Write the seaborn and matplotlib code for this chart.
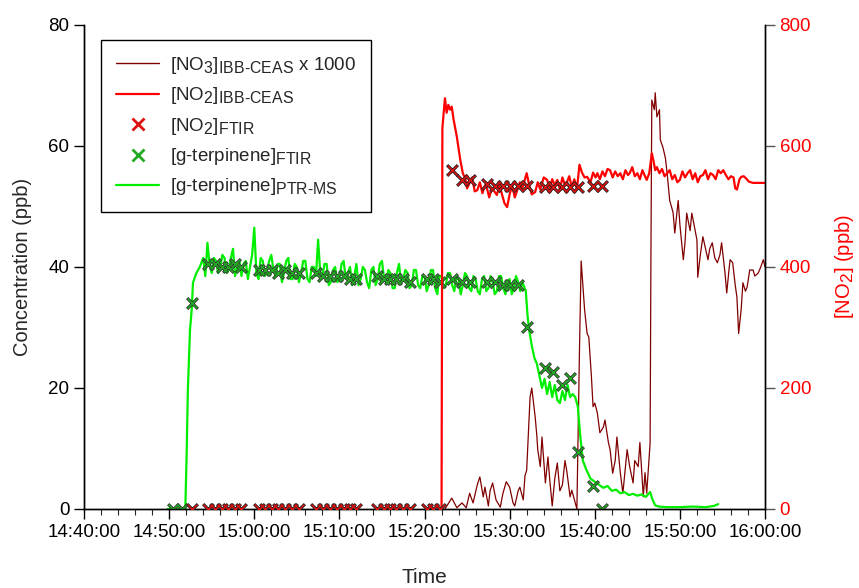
import numpy as np
import pandas as pd
import matplotlib
matplotlib.use('Agg')
import matplotlib.pyplot as plt
import matplotlib._mathtext as mathtext_internal
import seaborn as sns
from matplotlib.lines import Line2D
from matplotlib.ticker import MultipleLocator

# subscripts in the original are nearly full size
mathtext_internal.SHRINK_FACTOR = 0.85

# time axis is minutes after 14:40:00
xtick_pos = [0, 10, 20, 30, 40, 50, 60, 70, 80]
xtick_labels = ['14:40:00', '14:50:00', '15:00:00', '15:10:00', '15:20:00',
                '15:30:00', '15:40:00', '15:50:00', '16:00:00']

# [g-terpinene] PTR-MS (ppb, left axis)
ptr_t = [9.8, 11.9, 12.05, 12.2, 12.45, 12.65, 12.8, 13.2, 13.6,
         14.0, 14.25, 14.5, 14.75, 15.0, 15.25, 15.5, 15.75, 16.0, 16.25, 16.5, 16.75,
         17.0, 17.25, 17.5, 17.75, 18.0, 18.25, 18.5, 18.75, 19.0, 19.25, 19.5, 19.75,
         20.0, 20.25, 20.5, 20.75, 21.0, 21.25, 21.5, 21.75, 22.0, 22.25, 22.5, 22.75,
         23.0, 23.25, 23.5, 23.75, 24.0, 24.25, 24.5, 24.75, 25.0, 25.25, 25.5, 25.75,
         26.0, 26.25, 26.5, 26.75, 27.0, 27.25, 27.5, 27.75, 28.0, 28.25, 28.5, 28.75,
         29.0, 29.25, 29.5, 29.75, 30.0, 30.25, 30.5, 30.75, 31.0, 31.25, 31.5, 31.75,
         32.0, 32.25, 32.5, 32.75, 33.0, 33.25, 33.5, 33.75, 34.0, 34.25, 34.5, 34.75,
         35.0, 35.25, 35.5, 35.75, 36.0, 36.25, 36.5, 36.75, 37.0, 37.25, 37.5, 37.75,
         38.0, 38.25, 38.5, 38.75, 39.0, 39.25, 39.5, 39.75, 40.0, 40.25, 40.5, 40.75,
         41.0, 41.25, 41.5, 41.75, 42.0, 42.25, 42.5, 42.75, 43.0, 43.25, 43.5, 43.75,
         44.0, 44.25, 44.5, 44.75, 45.0, 45.25, 45.5, 45.75, 46.0, 46.25, 46.5, 46.75,
         47.0, 47.25, 47.5, 47.75, 48.0, 48.25, 48.5, 48.75, 49.0, 49.25, 49.5, 49.75,
         50.0, 50.25, 50.5, 50.75, 51.0, 51.25, 51.5,
         51.9, 52.1, 52.3, 52.6, 52.9, 53.2, 53.5, 53.8, 54.1, 54.4, 54.7, 55.0,
         55.3, 55.6, 55.9, 56.2, 56.5, 56.8, 57.1, 57.4, 57.7, 58.0, 58.3, 58.6,
         59.0, 59.5, 60.0, 60.5, 61.0, 61.5, 62.0, 62.5, 63.0, 63.5, 64.0, 64.5,
         65.0, 65.5, 66.0, 66.5, 66.8, 67.1, 67.5, 68.5, 70.0, 71.5, 73.0, 74.0, 74.5]
ptr_v = [0.0, 0.0, 8.6, 19.7, 29.6, 32.9, 37.4, 39.0, 40.0,
         41.5, 38.5, 44.0, 40.5, 39.0, 41.5, 41.0, 39.0, 40.0, 42.0, 41.5, 39.0,
         39.5, 41.5, 43.0, 38.5, 40.0, 41.0, 38.5, 40.5, 41.0, 38.0, 40.0, 42.0,
         46.5, 39.0, 38.0, 41.5, 41.0, 38.5, 39.5, 41.0, 42.0, 39.5, 38.5, 40.5,
         40.5, 37.5, 39.0, 41.0, 41.5, 38.0, 38.0, 40.5, 40.0, 37.5, 39.0, 41.0,
         41.0, 38.0, 37.5, 40.0, 40.0, 38.5, 44.5, 39.0, 38.5, 40.5, 40.5, 37.0,
         37.5, 39.5, 40.0, 37.5, 38.0, 40.5, 41.0, 38.0, 39.0, 40.0, 37.0, 38.5,
         40.5, 37.0, 38.0, 40.0, 39.5, 37.5, 36.5, 39.5, 40.0, 37.0, 38.0, 40.5,
         41.0, 38.0, 37.5, 39.5, 39.0, 36.5, 36.5, 39.0, 40.5, 37.5, 38.0, 39.5,
         39.0, 36.5, 37.0, 39.5, 39.5, 37.0, 36.5, 38.5, 38.5, 36.0, 37.0, 39.5,
         39.5, 36.5, 35.5, 38.5, 38.5, 36.5, 37.0, 39.0, 39.0, 37.0, 36.0, 38.5,
         38.0, 35.5, 37.0, 39.0, 38.5, 36.5, 36.0, 38.5, 38.0, 36.0, 35.5, 38.0,
         38.5, 36.0, 36.5, 38.5, 37.5, 35.5, 36.0, 38.5, 38.5, 36.5, 35.5, 37.5,
         38.0, 35.5, 36.5, 38.5, 37.5, 36.0, 37.5,
         36.0, 32.0, 29.5, 27.0, 25.0, 24.0, 22.0, 20.0, 21.5, 19.0, 21.0, 18.5,
         20.5, 18.0, 17.5, 19.5, 18.0, 20.5, 18.5, 19.0, 18.5, 17.0, 12.0, 8.0,
         6.5, 5.0, 4.5, 4.0, 3.5, 3.8, 3.0, 3.2, 2.6, 2.8, 2.3, 2.5,
         2.2, 2.4, 2.0, 2.8, 1.5, 0.6, 0.4, 0.3, 0.3, 0.4, 0.3, 0.5, 0.8]

# FTIR sample times, [g-terpinene] (ppb) and [NO2] (ppb)
ftir_t = [10.45, 11.5, 12.65, 14.6, 15.4, 16.2, 16.95, 17.7, 18.5, 20.5, 21.3, 22.05,
          22.8, 23.6, 24.4, 25.2, 27.3, 28.1, 28.9, 29.7, 30.5, 31.2, 32.0, 34.4,
          35.2, 35.9, 36.7, 37.5, 38.3, 40.3, 41.0, 41.8, 43.2, 44.4, 45.3, 47.3,
          48.3, 49.2, 50.0, 51.0, 52.0, 54.2, 55.1, 56.2, 57.1, 58.0, 59.8, 60.9]
ftir_terp = [0.0, 0.0, 34.0, 40.5, 40.5, 40.0, 40.0, 40.5, 40.0, 39.5, 39.5, 39.5,
             39.0, 39.5, 39.0, 39.0, 39.0, 38.5, 38.5, 38.5, 38.5, 38.0, 38.0, 38.5,
             38.0, 38.0, 38.0, 38.0, 37.5, 38.0, 38.0, 37.5, 38.0, 37.5, 37.5, 37.5,
             37.5, 37.0, 37.0, 37.0, 30.0, 23.3, 22.6, 20.5, 21.6, 9.4, 3.8, 0.0]
ftir_no2 = [np.nan, np.nan, 0, 0, 0, 0, 0, 0, 0, 0, 0, 0,
            0, 0, 0, 0, 0, 0, 0, 0, 0, 0, 0, 0,
            0, 0, 0, 0, 0, 0, 0, 0, 560, 544, 544, 537,
            534, 534, 534, 534, 534, 532, 532, 532, 532, 532, 534, 534]

# [NO3] IBB-CEAS x 1000 (left axis)
no3_t = [42.4, 43.2, 43.8, 44.4, 44.9, 45.3, 45.7, 46.2, 46.5, 46.9, 47.1, 47.5,
         47.7, 48.0, 48.4, 48.9, 49.2, 49.6, 50.0, 50.4, 50.6, 51.0, 51.2, 51.6,
         51.8, 52.0, 52.4, 52.6, 53.0, 53.2, 53.3, 53.6, 53.8, 54.0, 54.2, 54.5,
         54.7, 55.0, 55.3, 55.6, 55.9, 56.2, 56.5, 56.7, 57.1, 57.3, 57.7, 57.9,
         58.2, 58.4, 58.6, 58.8, 59.1, 59.3, 59.6, 59.8, 60.0, 60.3, 60.6, 61.0,
         61.2, 61.6, 61.8, 62.1, 62.4, 62.6, 63.0, 63.3, 63.6, 63.8, 64.1, 64.5,
         64.7, 65.1, 65.3, 65.7, 65.9, 66.1, 66.5, 66.6, 66.7, 67.0, 67.1, 67.3,
         67.6, 67.7, 68.0, 68.3, 68.5, 68.8, 69.2, 69.4, 69.8, 70.0, 70.4, 70.6,
         70.8, 71.2, 71.4, 71.8, 72.0, 72.1, 72.4, 72.7, 73.1, 73.3, 73.5, 73.8,
         74.1, 74.4, 74.7, 74.9, 75.3, 75.5, 75.8, 75.9, 76.2, 76.5, 76.7, 76.9,
         77.2, 77.4, 77.7, 77.9, 78.2, 78.6, 78.8, 79.2, 79.5, 79.8, 80.0]
no3_v = [0.0, 1.8, 0.2, 1.0, 0.2, 2.6, 1.0, 4.0, 5.3, 2.0, 3.6, 0.5,
         3.0, 4.3, 1.5, 0.3, 2.5, 4.5, 3.6, 1.0, 0.5, 3.0, 3.6, 1.5,
         5.5, 6.4, 18.5, 20.0, 15.2, 12.0, 9.8, 7.0, 11.9, 8.0, 4.3, 8.6,
         5.0, 0.5, 5.0, 7.6, 3.0, 4.0, 8.0, 6.4, 2.0, 3.1, 1.0, 0.0,
         26.0, 41.0, 37.0, 33.0, 29.0, 28.4, 22.0, 16.9, 17.5, 15.9, 12.6, 13.5,
         14.7, 11.0, 9.8, 5.9, 8.0, 11.9, 6.0, 2.6, 7.0, 9.8, 7.0, 4.3,
         8.0, 7.0, 11.0, 2.0, 6.0, 2.6, 10.9, 42.8, 67.6, 66.0, 68.8, 64.8,
         66.0, 61.0, 59.8, 58.0, 55.5, 51.0, 49.0, 45.6, 51.0, 47.0, 41.2, 44.0,
         48.9, 46.0, 48.9, 46.0, 44.5, 38.3, 42.0, 45.0, 42.5, 41.2, 43.0, 44.0,
         41.5, 40.7, 42.0, 44.0, 39.0, 35.7, 40.0, 41.2, 40.7, 37.0, 35.0, 29.0,
         33.0, 37.4, 36.0, 36.7, 39.5, 39.5, 38.5, 39.0, 40.0, 41.2, 40.0]

# [NO2] IBB-CEAS (ppb, right axis)
no2_t = [41.8, 42.0, 42.1, 42.4, 42.6, 42.8, 43.0, 43.2, 43.4, 43.8, 44.2, 44.5,
         44.8, 45.0, 45.3, 45.6, 45.9, 46.2, 46.5, 46.8, 47.1, 47.3, 47.6, 47.9,
         48.2, 48.5, 48.8, 49.1, 49.4, 49.7, 50.0, 50.3, 50.6, 50.9, 51.2, 51.5,
         51.8, 52.0, 52.3, 52.6, 53.0, 53.3, 53.6, 54.0, 54.4, 54.7, 55.0, 55.3,
         55.6, 55.9, 56.2, 56.5, 56.7, 57.0, 57.3, 57.6, 57.9, 58.2, 58.5, 58.8,
         59.1, 59.5, 59.8, 60.1, 60.3, 60.6, 60.9, 61.2, 61.5, 61.8, 62.1, 62.4,
         62.7, 63.0, 63.3, 63.6, 63.9, 64.1, 64.4, 64.7, 65.0, 65.3, 65.6, 65.9,
         66.1, 66.4, 66.7, 66.9, 67.1, 67.3, 67.6, 67.9, 68.2, 68.5, 68.8, 69.1,
         69.4, 69.7, 70.0, 70.3, 70.6, 70.9, 71.2, 71.5, 71.8, 72.1, 72.4, 72.7,
         73.0, 73.3, 73.6, 73.9, 74.2, 74.5, 74.8, 75.1, 75.4, 75.7, 76.0, 76.3,
         76.5, 76.7, 77.0, 77.2, 77.5, 77.8, 78.1, 78.6, 79.2, 80.0]
no2_v = [0, 0, 630, 679, 655, 668, 660, 665, 645, 615, 577, 555,
         545, 530, 539, 548, 525, 527, 540, 522, 535, 532, 515, 530,
         525, 519, 535, 520, 505, 499, 520, 535, 515, 527, 540, 530,
         545, 555, 535, 520, 524, 540, 528, 548, 544, 530, 545, 535,
         544, 528, 548, 535, 539, 550, 532, 545, 528, 569, 556, 548,
         549, 540, 556, 548, 555, 545, 558, 550, 562, 560, 548, 558,
         550, 555, 545, 560, 552, 555, 565, 550, 555, 545, 560, 550,
         544, 555, 588, 575, 560, 565, 555, 562, 550, 555, 560, 545,
         552, 540, 544, 558, 548, 555, 560, 545, 555, 540, 550, 552,
         560, 545, 555, 552, 545, 560, 555, 560, 552, 545, 550, 548,
         530, 528, 545, 549, 550, 546, 541, 539, 539, 539]

ptr = pd.DataFrame({'t': ptr_t, 'v': ptr_v})
ftir = pd.DataFrame({'t': ftir_t, 'terp': ftir_terp, 'no2': ftir_no2})
no3 = pd.DataFrame({'t': no3_t, 'v': no3_v})
no2 = pd.DataFrame({'t': no2_t, 'v': no2_v})

sns.set_style('ticks')
plt.rcParams['font.family'] = ['Liberation Sans', 'DejaVu Sans']
plt.rcParams['mathtext.fontset'] = 'custom'
plt.rcParams['mathtext.rm'] = 'Liberation Sans'
plt.rcParams['mathtext.it'] = 'Liberation Sans'

RED = '#ff0000'
DARK = '#800000'
GREEN = '#00ee00'
MGREEN = '#22aa22'
XRED = '#dd1111'

fig = plt.figure(figsize=(8.59, 5.88), dpi=100)
ax = fig.add_axes([0.0978, 0.1344, 0.7928, 0.8231])

sns.lineplot(data=no3, x='t', y='v', ax=ax, color=DARK, lw=0.9, estimator=None, sort=False)
sns.lineplot(data=ptr, x='t', y='v', ax=ax, color=GREEN, lw=1.6, estimator=None, sort=False)
# crosses with a dark outline: dark wide x first, coloured thin x on top
sns.scatterplot(data=ftir, x='t', y='terp', ax=ax, marker='x', s=60, color='#333333',
                linewidth=2.3, zorder=5)
sns.scatterplot(data=ftir, x='t', y='terp', ax=ax, marker='x', s=50, color=MGREEN,
                linewidth=1.1, zorder=6)

ax2 = ax.twinx()
sns.lineplot(data=no2, x='t', y='v', ax=ax2, color=RED, lw=1.6, estimator=None, sort=False)
sns.scatterplot(data=ftir, x='t', y='no2', ax=ax2, marker='x', s=60, color='#222222',
                linewidth=2.3, zorder=5)
sns.scatterplot(data=ftir, x='t', y='no2', ax=ax2, marker='x', s=50, color=XRED,
                linewidth=1.1, zorder=6)

ax.set_xlim(0, 80)
ax.set_ylim(0, 80)
ax2.set_ylim(0, 800)
ax.set_xticks(xtick_pos)
ax.set_xticklabels(xtick_labels)
ax.xaxis.set_minor_locator(MultipleLocator(2))
ax.set_yticks([0, 20, 40, 60, 80])
ax2.set_yticks([0, 200, 400, 600, 800])

for a in (ax, ax2):
    a.spines['top'].set_visible(False)
    for s in a.spines.values():
        s.set_color('black')
        s.set_linewidth(1.0)

ax.tick_params(axis='both', which='major', labelsize=13.5, length=7, width=1, colors='black', direction='out')
ax.tick_params(axis='x', which='minor', length=4, width=0.8, direction='out')
ax2.tick_params(axis='y', which='major', labelsize=13.5, length=7, width=1, color='#555555',
                labelcolor=RED, direction='out')

ax.set_xlabel('Time', fontsize=15, labelpad=20)
ax.set_ylabel('Concentration (ppb)', fontsize=14.5, labelpad=12)
ax2.set_ylabel(r'[NO$_2$] (ppb)', fontsize=14.5, color=RED, labelpad=16)

handles = [
    Line2D([], [], color=DARK, lw=1.0),
    Line2D([], [], color=RED, lw=1.6),
    Line2D([], [], color=XRED, marker='x', ls='none', ms=8, mew=2),
    Line2D([], [], color=MGREEN, marker='x', ls='none', ms=8, mew=2),
    Line2D([], [], color=GREEN, lw=1.6),
]
labels = [
    r'[NO$_3$]$_{\text{IBB-CEAS}}$ x 1000',
    r'[NO$_2$]$_{\text{IBB-CEAS}}$',
    r'[NO$_2$]$_{\text{FTIR}}$',
    r'[g-terpinene]$_{\text{FTIR}}$',
    r'[g-terpinene]$_{\text{PTR-MS}}$',
]
leg = ax2.legend(handles, labels, loc='upper left', bbox_to_anchor=(0.025, 0.969),
                 borderaxespad=0, fontsize=13.5, frameon=True, fancybox=False,
                 edgecolor='black', framealpha=1, handlelength=2.3, labelspacing=0.5,
                 borderpad=0.8, handletextpad=0.6)
leg.get_frame().set_linewidth(1.0)

fig.savefig('out.png', dpi=100)
